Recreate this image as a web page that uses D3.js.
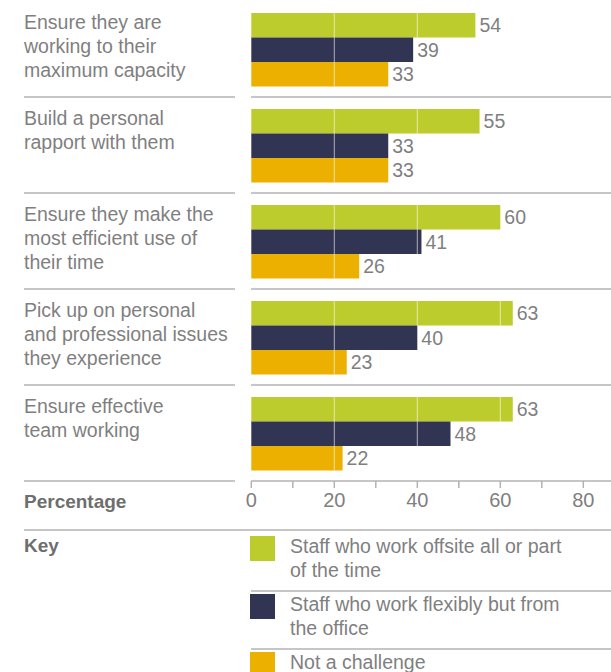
<!DOCTYPE html>
<html>
<head>
<meta charset="utf-8">
<script src="https://cdn.jsdelivr.net/npm/d3@7"></script>
<style>
  body { margin: 0; background: #fff; }
  svg { display: block; font-family: "Liberation Sans", Arial, sans-serif; }
</style>
</head>
<body>
<div id="chart"></div>
<script>
// data
const categories = [
    ["Ensure they are", "working to their", "maximum capacity"],
    ["Build a personal", "rapport with them"],
    ["Ensure they make the", "most efficient use of", "their time"],
    ["Pick up on personal", "and professional issues", "they experience"],
    ["Ensure effective", "team working"]
];
const offsite = [54, 55, 60, 63, 63];
const flexible = [39, 33, 41, 40, 48];
const notChallenge = [33, 33, 26, 23, 22];
const seriesNames = [
    ["Staff who work offsite all or part", "of the time"],
    ["Staff who work flexibly but from", "the office"],
    ["Not a challenge"]
];
const seriesColors = ["#bdcc2d", "#313553", "#ecb000"];
const tickValues = [0, 10, 20, 30, 40, 50, 60, 70, 80, 90];
const tickLabels = [0, 20, 40, 60, 80];

function initChart() {
    const width = 611, height = 672;
    const textColor = "#7f7f7f";
    const lineColor = "#b3b3b3";

    const svg = d3.select("#chart").append("svg").attr("width", width).attr("height", height);

    const x = d3.scaleLinear().domain([0, 80]).range([251.3, 583.3]);
    const yGroup = d3.scaleBand().domain(d3.range(categories.length)).range([1, 481]).paddingInner(0);
    const ySeries = d3.scaleBand().domain([0, 1, 2]).range([12, 85.5]);

    const series = [offsite, flexible, notChallenge];

    const groups = svg.selectAll("g.group").data(categories).join("g")
        .attr("class", "group")
        .attr("transform", (d, i) => `translate(0, ${yGroup(i)})`);

    // category labels
    groups.append("text")
        .attr("x", 24).attr("y", 28)
        .style("fill", textColor).style("font-size", "19.5px")
        .selectAll("tspan").data(d => d).join("tspan")
        .attr("x", 24).attr("dy", (d, i) => i === 0 ? 0 : 24)
        .text(d => d);

    // separator lines below each group (last one is the axis line)
    groups.append("line").attr("x1", 24).attr("x2", 235).attr("y1", yGroup.bandwidth()).attr("y2", yGroup.bandwidth())
        .attr("stroke", lineColor).attr("stroke-width", 1.5);
    groups.append("line").attr("x1", 251).attr("x2", 611).attr("y1", yGroup.bandwidth()).attr("y2", yGroup.bandwidth())
        .attr("stroke", lineColor).attr("stroke-width", 1.5);

    groups.each(function (cat, gi) {
        const g = d3.select(this);
        const rows = series.map((s, si) => ({ si, value: s[gi] }));
        g.selectAll("rect").data(rows).join("rect")
            .attr("x", x(0)).attr("y", d => ySeries(d.si))
            .attr("width", d => x(d.value) - x(0)).attr("height", ySeries.bandwidth())
            .attr("fill", d => seriesColors[d.si]);
        // white gridlines inside bars
        rows.forEach(d => {
            [20, 40, 60].filter(t => t < d.value).forEach(t => {
                g.append("line").attr("x1", x(t)).attr("x2", x(t))
                    .attr("y1", ySeries(d.si)).attr("y2", ySeries(d.si) + ySeries.bandwidth())
                    .attr("stroke", "#fff").attr("stroke-opacity", 0.6).attr("stroke-width", 1);
            });
        });
        g.selectAll("text.val").data(rows).join("text").attr("class", "val")
            .attr("x", d => x(d.value) + 4).attr("y", d => ySeries(d.si) + ySeries.bandwidth() / 2)
            .attr("dy", "0.36em")
            .style("fill", textColor).style("font-size", "19.5px")
            .text(d => d.value);
    });

    // axis
    const axisY = yGroup(categories.length - 1) + yGroup.bandwidth();
    const axis = svg.append("g").attr("transform", `translate(0, ${axisY})`);
    axis.selectAll("line.tick").data(tickValues).join("line").attr("class", "tick")
        .attr("x1", d => x(d)).attr("x2", d => x(d)).attr("y1", 0).attr("y2", 7)
        .attr("stroke", lineColor).attr("stroke-width", 1.5);
    axis.selectAll("text").data(tickLabels).join("text")
        .attr("x", d => x(d)).attr("y", 26).attr("text-anchor", "middle")
        .style("fill", textColor).style("font-size", "20px")
        .text(d => d);

    svg.append("text").attr("x", 24).attr("y", 508)
        .style("fill", "#6e6e6e").style("font-size", "19px").style("font-weight", "700")
        .text("Percentage");

    svg.append("line").attr("x1", 24).attr("x2", 611).attr("y1", 530).attr("y2", 530)
        .attr("stroke", lineColor).attr("stroke-width", 1.5);

    // key
    svg.append("text").attr("x", 24).attr("y", 552)
        .style("fill", "#6e6e6e").style("font-size", "19px").style("font-weight", "700")
        .text("Key");

    const key = svg.selectAll("g.key").data(seriesNames).join("g").attr("class", "key")
        .attr("transform", (d, i) => `translate(0, ${536 + i * 58})`);
    key.append("rect").attr("x", 250).attr("y", 0).attr("width", 25).attr("height", 25)
        .attr("fill", (d, i) => seriesColors[i]);
    key.append("text").attr("x", 290).attr("y", 17)
        .style("fill", textColor).style("font-size", "19.5px")
        .selectAll("tspan").data(d => d).join("tspan")
        .attr("x", 290).attr("dy", (d, i) => i === 0 ? 0 : 24)
        .text(d => d);
    key.filter((d, i) => i < seriesNames.length - 1).append("line")
        .attr("x1", 251).attr("x2", 611).attr("y1", 55).attr("y2", 55)
        .attr("stroke", lineColor).attr("stroke-width", 1.5);
}

initChart();
</script>
</body>
</html>
